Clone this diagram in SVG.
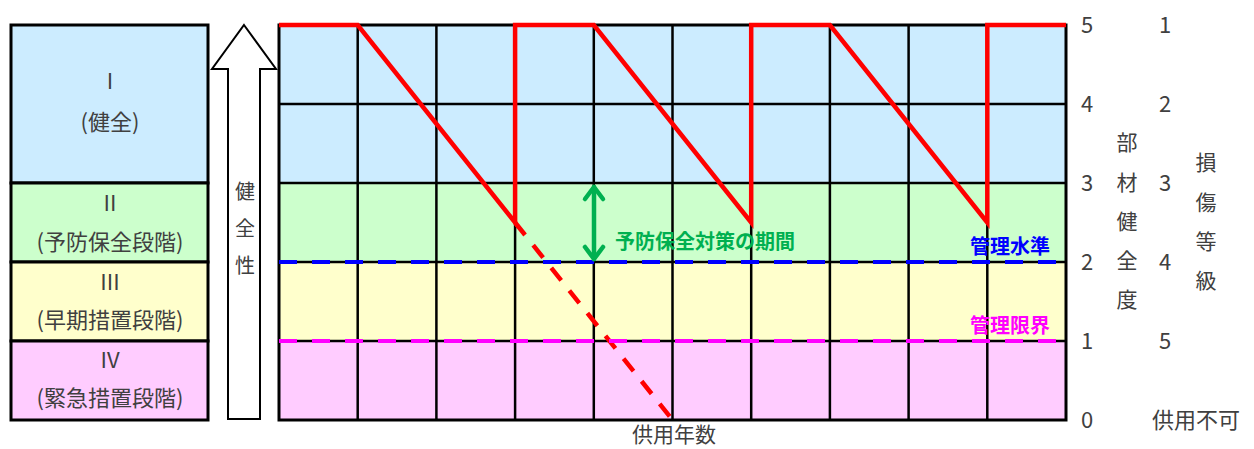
<svg xmlns="http://www.w3.org/2000/svg" width="1254" height="449" viewBox="0 0 1254 449">
<style>
.t{font-family:"Noto Sans CJK JP","Noto Sans",sans-serif;fill:#404040;stroke:none;}
.c{text-anchor:middle;}
.grid{stroke:#000;stroke-width:2.5;fill:none;}
.red{stroke:#FF0000;stroke-width:4.5;fill:none;stroke-linejoin:miter;}
.box{stroke:#000;stroke-width:3;}
</style>
<rect width="1254" height="449" fill="#fff"/>
<g id="stages">
  <g id="stage1"><rect class="box" x="11" y="25" width="197" height="158" fill="#CCECFF"/>
    <text class="t c" x="110" y="89" font-size="22">I</text>
    <text class="t c" x="110" y="130" font-size="22">(健全)</text></g>
  <g id="stage2"><rect class="box" x="11" y="183" width="197" height="79" fill="#CCFFCC"/>
    <text class="t c" x="110" y="211" font-size="22">II</text>
    <text class="t c" x="110" y="250" font-size="22">(予防保全段階)</text></g>
  <g id="stage3"><rect class="box" x="11" y="262" width="197" height="79" fill="#FFFFCC"/>
    <text class="t c" x="110" y="290" font-size="22">III</text>
    <text class="t c" x="110" y="328" font-size="22">(早期措置段階)</text></g>
  <g id="stage4"><rect class="box" x="11" y="341" width="197" height="79" fill="#FFCCFF"/>
    <text class="t c" x="110" y="368" font-size="22">IV</text>
    <text class="t c" x="110" y="406" font-size="22">(緊急措置段階)</text></g>
</g>
<g id="health-arrow">
  <polygon points="244,25 276,69 260,69 260,419 228,419 228,69 212,69" fill="#fff" stroke="#000" stroke-width="2"/>
  <text class="t c" font-size="20"><tspan x="245" y="199">健</tspan><tspan x="245" y="236">全</tspan><tspan x="245" y="273">性</tspan></text>
</g>
<g id="chart">
  <rect x="279" y="25" width="787" height="158" fill="#CCECFF"/>
  <rect x="279" y="183" width="787" height="79" fill="#CCFFCC"/>
  <rect x="279" y="262" width="787" height="79" fill="#FFFFCC"/>
  <rect x="279" y="341" width="787" height="79" fill="#FFCCFF"/>
  <path class="grid" d="M357.7 25V420M436.4 25V420M515.1 25V420M593.8 25V420M672.5 25V420M751.2 25V420M829.9 25V420M908.6 25V420M987.3 25V420M279 104H1066M279 183H1066M279 262H1066M279 341H1066"/>
  <rect x="279" y="25" width="787" height="395" fill="none" stroke="#000" stroke-width="3"/>
</g>
<g id="connectors">
  <path id="degradation" class="red" d="M279 25H357.7L515.1 222.5V25H593.8L751.2 222.5V25H829.9L987.3 222.5V25H1066"/>
  <path id="degradation-dashed" d="M515.1 222.5L672.5 420" stroke="#FF0000" stroke-width="4.5" stroke-dasharray="16 13" fill="none"/>
  <path id="management-level" d="M279 262H1066" stroke="#0000FF" stroke-width="4" stroke-dasharray="18 15" fill="none"/>
  <path id="management-limit" d="M279 341H1066" stroke="#FF00FF" stroke-width="4" stroke-dasharray="18 15" fill="none"/>
  <g id="prevent-period" stroke="#00B050" stroke-width="4.5" fill="none" stroke-linecap="round" stroke-linejoin="round">
    <path d="M594 187V259"/>
    <path d="M585 199L594 187L603 199"/>
    <path d="M585 247L594 259L603 247"/>
  </g>
</g>
<g id="labels" font-family="'Noto Sans CJK JP',sans-serif" font-weight="bold">
  <text x="615" y="249" font-size="20" fill="#00B050">予防保全対策の期間</text>
  <text x="970" y="254" font-size="20" fill="#0000FF">管理水準</text>
  <text x="970" y="333" font-size="20" fill="#FF00FF">管理限界</text>
</g>
<g id="axes" class="t">
  <g font-size="22">
    <text x="1081" y="33">5</text><text x="1081" y="112">4</text><text x="1081" y="191">3</text>
    <text x="1081" y="270">2</text><text x="1081" y="349">1</text><text x="1081" y="428">0</text>
  </g>
  <g font-size="22" text-anchor="middle">
    <text x="1165" y="33">1</text><text x="1165" y="112">2</text><text x="1165" y="191">3</text>
    <text x="1165" y="270">4</text><text x="1165" y="349">5</text>
    <text x="1196" y="428">供用不可</text>
  </g>
  <text class="c" font-size="21"><tspan x="1127" y="150">部</tspan><tspan x="1127" y="190">材</tspan><tspan x="1127" y="229">健</tspan><tspan x="1127" y="268">全</tspan><tspan x="1127" y="307">度</tspan></text>
  <text class="c" font-size="21"><tspan x="1206" y="170">損</tspan><tspan x="1206" y="210">傷</tspan><tspan x="1206" y="249">等</tspan><tspan x="1206" y="288">級</tspan></text>
  <text class="c" x="674" y="442" font-size="21">供用年数</text>
</g>
</svg>
